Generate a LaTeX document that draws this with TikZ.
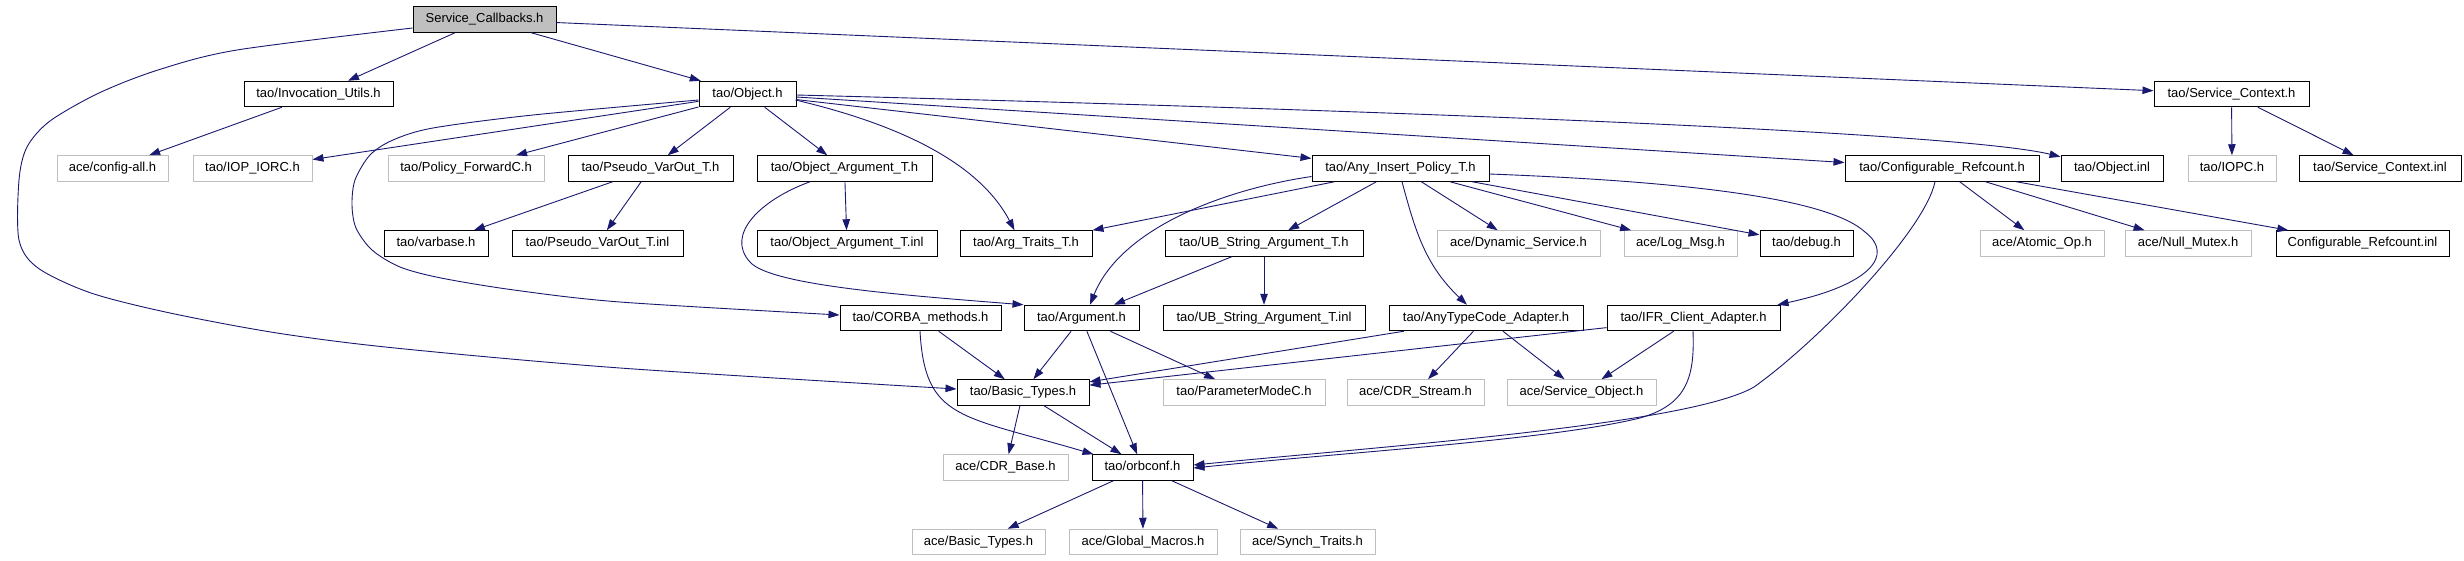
\documentclass[tikz,border=0pt]{standalone}
\usepackage{fontspec}
\setmainfont{Liberation Sans}
\usetikzlibrary{arrows.meta,calc}
\definecolor{edgec}{HTML}{191970}
\definecolor{lgray}{HTML}{BFBFBF}
\tikzset{
  nbox/.style={draw=black, line width=1pt, rectangle, inner sep=0pt,
    minimum height=25.5pt, text height=9.5pt, text depth=3pt,
    font=\fontsize{13}{15}\selectfont, text=black},
  gbox/.style={nbox, draw=lgray},
  edge/.style={draw=edgec, line width=0.9pt, -{Triangle[length=11pt,width=7.5pt]}},
}
\begin{document}
\begin{tikzpicture}[x=1pt,y=-1pt]
\path[fill=white] (0,0) rectangle (2464,560);
% row 0
\node[nbox,fill=lgray,minimum width=143pt] (sc) at (484.5,19.5) {Service\_Callbacks.h};
% row 1
\node[nbox,minimum width=149pt] (inv) at (318.5,94) {tao/Invocation\_Utils.h};
\node[nbox,minimum width=97pt] (obj) at (747.5,94) {tao/Object.h};
\node[nbox,minimum width=155pt] (svc) at (2231.5,94) {tao/Service\_Context.h};
% row 2
\node[gbox,minimum width=111pt] (cfg) at (112.5,168.5) {ace/config-all.h};
\node[gbox,minimum width=119pt] (iop) at (252.5,168.5) {tao/IOP\_IORC.h};
\node[gbox,minimum width=156pt] (pol) at (466,168.5) {tao/Policy\_ForwardC.h};
\node[nbox,minimum width=165pt] (pvo) at (650.5,168.5) {tao/Pseudo\_VarOut\_T.h};
\node[nbox,minimum width=175pt] (oat) at (844.5,168.5) {tao/Object\_Argument\_T.h};
\node[nbox,minimum width=177pt] (anyins) at (1400.5,168.5) {tao/Any\_Insert\_Policy\_T.h};
\node[nbox,minimum width=194pt] (cref) at (1942,168.5) {tao/Configurable\_Refcount.h};
\node[nbox,minimum width=102pt] (objinl) at (2112,168.5) {tao/Object.inl};
\node[gbox,minimum width=88pt] (iopc) at (2232,168.5) {tao/IOPC.h};
\node[nbox,minimum width=162pt] (svcinl) at (2380,168.5) {tao/Service\_Context.inl};
% row 3
\node[nbox,minimum width=104pt] (varbase) at (436,243.5) {tao/varbase.h};
\node[nbox,minimum width=171pt] (pvoinl) at (597.5,243.5) {tao/Pseudo\_VarOut\_T.inl};
\node[nbox,minimum width=180pt] (oatinl) at (847,243.5) {tao/Object\_Argument\_T.inl};
\node[nbox,minimum width=132pt] (argt) at (1026,243.5) {tao/Arg\_Traits\_T.h};
\node[nbox,minimum width=198pt] (ubs) at (1264,243.5) {tao/UB\_String\_Argument\_T.h};
\node[gbox,minimum width=163pt] (dyn) at (1518.5,243.5) {ace/Dynamic\_Service.h};
\node[gbox,minimum width=113pt] (logmsg) at (1680.5,243.5) {ace/Log\_Msg.h};
\node[nbox,minimum width=93pt] (debug) at (1806.5,243.5) {tao/debug.h};
\node[gbox,minimum width=124pt] (atomic) at (2042,243.5) {ace/Atomic\_Op.h};
\node[gbox,minimum width=126pt] (nullmx) at (2188,243.5) {ace/Null\_Mutex.h};
\node[nbox,minimum width=173pt] (crefinl) at (2362.5,243.5) {Configurable\_Refcount.inl};
% row 4
\node[nbox,minimum width=161pt] (corba) at (920.5,318) {tao/CORBA\_methods.h};
\node[nbox,minimum width=115pt] (arg) at (1081.5,318) {tao/Argument.h};
\node[nbox,minimum width=202pt] (ubsinl) at (1264,318) {tao/UB\_String\_Argument\_T.inl};
\node[nbox,minimum width=194pt] (atc) at (1486,318) {tao/AnyTypeCode\_Adapter.h};
\node[nbox,minimum width=173pt] (ifr) at (1693.5,318) {tao/IFR\_Client\_Adapter.h};
% row 5
\node[nbox,minimum width=132pt] (bt) at (1023,392.5) {tao/Basic\_Types.h};
\node[gbox,minimum width=162pt] (pmode) at (1244,392.5) {tao/ParameterModeC.h};
\node[gbox,minimum width=137pt] (cdrs) at (1415.5,392.5) {ace/CDR\_Stream.h};
\node[gbox,minimum width=149pt] (svcobj) at (1581.5,392.5) {ace/Service\_Object.h};
% row 6
\node[gbox,minimum width=125pt] (cdrbase) at (1005.5,467.5) {ace/CDR\_Base.h};
\node[nbox,minimum width=101pt] (orbconf) at (1142.5,467.5) {tao/orbconf.h};
% row 7
\node[gbox,minimum width=133pt] (abt) at (978.5,542) {ace/Basic\_Types.h};
\node[gbox,minimum width=148pt] (gmac) at (1143,542) {ace/Global\_Macros.h};
\node[gbox,minimum width=135pt] (synch) at (1307.5,542) {ace/Synch\_Traits.h};

% --- edges from Service_Callbacks.h
\draw[edge] (sc) -- (inv);
\draw[edge] (sc) -- (obj);
\draw[edge] (sc) -- (svc);
\coordinate (p1) at ($(sc.west)+(0,8.5)$);
\coordinate (p2) at ($(bt.west)+(0,-3.5)$);
\draw[edge] plot[smooth,tension=0.5] coordinates {(p1) (237,50) (158,70) (99,93) (50,121) (27,147) (19,180) (19,240) (38,268) (91,293) (170,313) (277,333) (395,348) (620,368) (p2)};
\draw[edge] (inv) -- (cfg);
% --- edges from tao/Object.h
\draw[edge] (obj) -- (iop);
\draw[edge] (obj) -- (pol);
\draw[edge] (obj) -- (pvo);
\draw[edge] (obj) -- (oat);
\draw[edge] ($(obj.east)+(-1,6)$) .. controls (880,120) and (975,155) .. ($(argt.north west)+(55,0)$);
\draw[edge] (obj) -- (anyins);
\draw[edge] (obj) -- (cref);
\draw[edge] ($(obj.east)+(0,1)$) .. controls (1300,108) and (1950,130) .. ($(objinl.north west)+(0,1.5)$);
\coordinate (q1) at ($(obj.west)+(0,6)$);
\coordinate (q2) at ($(corba.west)+(0,-3)$);
\draw[edge] plot[smooth,tension=0.5] coordinates {(q1) (533,115) (433,128) (393,140) (370,155) (355,180) (352,205) (356,228) (372,250) (400,267) (441,278) (514,290) (620,302) (q2)};
% --- Pseudo_VarOut / Object_Argument
\draw[edge] (pvo) -- (varbase);
\draw[edge] (pvo) -- (pvoinl);
\draw[edge] (oat) -- (oatinl);
\draw[edge] ($(oat.south)+(-34.5,0)$) .. controls (760,200) and (725,235) .. (750,262) .. controls (770,285) and (900,295) .. (arg.north west);
% --- Any_Insert_Policy_T.h
\draw[edge] (anyins) -- (argt);
\draw[edge] ($(anyins.west)+(0,8)$) .. controls (1220,190) and (1120,230) .. ($(arg.north)+(8.5,0)$);
\draw[edge] (anyins) -- (ubs);
\draw[edge] ($(anyins.south)+(1.5,0)$) .. controls (1415,230) and (1425,265) .. ($(atc.north)+(-19,0)$);
\draw[edge] (anyins) -- (dyn);
\draw[edge] (anyins) -- (logmsg);
\draw[edge] (anyins) -- (debug);
\draw[edge] ($(anyins.east)+(0,5.5)$) .. controls (1700,182) and (1830,200) .. (1865,232) .. controls (1895,255) and (1870,285) .. ($(ifr.north east)+(-3,0)$);
% --- UB_String_Argument_T.h
\draw[edge] (ubs) -- (arg);
\draw[edge] (ubs) -- (ubsinl);
% --- Configurable_Refcount.h
\draw[edge] (cref) -- (atomic);
\draw[edge] (cref) -- (nullmx);
\draw[edge] (cref) -- (crefinl);
\draw[edge] ($(cref.south)+(-7,0)$) .. controls (1925,230) and (1820,340) .. (1754,387) .. controls (1690,424) and (1400,445) .. ($(orbconf.east)+(0,-2.5)$);
% --- Service_Context.h
\draw[edge] (svc) -- (iopc);
\draw[edge] (svc) -- (svcinl);
% --- row 4
\draw[edge] (corba) -- (bt);
\draw[edge] ($(corba.south)+(-0.5,0)$) .. controls (925,420) and (960,415) .. ($(orbconf.north west)+(2,0)$);
\draw[edge] (arg) -- (bt);
\draw[edge] (arg) -- (orbconf);
\draw[edge] (arg) -- (pmode);
\draw[edge] (atc) -- (bt);
\draw[edge] (atc) -- (cdrs);
\draw[edge] (atc) -- (svcobj);
\draw[edge] (ifr) -- (bt);
\draw[edge] (ifr) -- (svcobj);
\draw[edge] ($(ifr.south)+(-0.5,0)$) .. controls (1695,380) and (1685,405) .. (1640,418) .. controls (1550,440) and (1350,452) .. ($(orbconf.east)+(0,0.5)$);
% --- lower rows
\draw[edge] (bt) -- (cdrbase);
\draw[edge] (bt) -- (orbconf);
\draw[edge] (orbconf) -- (abt);
\draw[edge] (orbconf) -- (gmac);
\draw[edge] (orbconf) -- (synch);
\end{tikzpicture}
\end{document}
